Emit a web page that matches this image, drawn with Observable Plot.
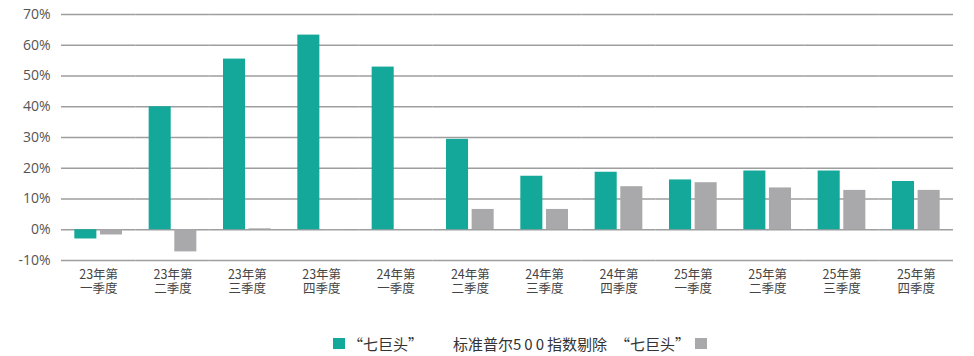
<!DOCTYPE html>
<html lang="zh-Hans"><head><meta charset="utf-8">
<script src="https://cdn.jsdelivr.net/npm/d3@7"></script>
<script src="https://cdn.jsdelivr.net/npm/@observablehq/plot@0.6"></script>
<style>
html,body{margin:0;padding:0;background:#fff;}
#wrap{width:974px;height:356px;position:relative;overflow:hidden;}
#legend{position:absolute;left:333px;top:333px;display:flex;align-items:center;font-family:"Noto Sans CJK SC","Noto Sans",sans-serif;font-size:15px;color:#333;white-space:nowrap;}
#legend .sw{width:12px;height:11px;display:inline-block;}
#legend .num{letter-spacing:3px;}
#legend .q{margin-left:8px;}
</style>
</head><body>
<div id="wrap"><div id="chart"></div><div id="legend" lang="zh-Hans"></div></div>
<script>
const quarters = ["23年第\n一季度","23年第\n二季度","23年第\n三季度","23年第\n四季度","24年第\n一季度","24年第\n二季度","24年第\n三季度","24年第\n四季度","25年第\n一季度","25年第\n二季度","25年第\n三季度","25年第\n四季度"];
const seriesNames = ["“七巨头”","标准普尔500指数剔除“七巨头”"];
const mag7 = [-3.0, 40.0, 55.5, 63.3, 52.9, 29.4, 17.4, 18.7, 16.2, 19.1, 19.1, 15.7];
const sp493 = [-1.7, -7.2, 0.3, -0.2, 0.0, 6.6, 6.6, 14.0, 15.3, 13.6, 12.8, 12.8];
const yTicks = [-10, 0, 10, 20, 30, 40, 50, 60, 70];
const colors = ["#13a89a", "#a9a9ab"];

const rows = quarters.flatMap((q, i) => [
  {quarter: q, series: seriesNames[0], value: mag7[i]},
  {quarter: q, series: seriesNames[1], value: sp493[i]}
]);

const chart = Plot.plot({
  width: 974,
  height: 305,
  marginLeft: 61,
  marginRight: 21,
  marginTop: 14,
  marginBottom: 45,
  style: {fontFamily: "'Open Sans', 'Noto Sans CJK SC', sans-serif", color: "#555", background: "transparent"},
  fx: {domain: quarters, padding: 0, round: false, label: null},
  x: {domain: seriesNames, paddingInner: 0.14, paddingOuter: 0.52, round: false, axis: null},
  y: {domain: [-10, 70], label: null},
  color: {domain: seriesNames, range: colors},
  marks: [
    Plot.ruleY(yTicks, {stroke: "#9e9e9e", strokeWidth: 1.3}),
    Plot.barY(rows, {fx: "quarter", x: "series", y: "value", fill: "series"}),
    Plot.axisY(yTicks, {tickSize: 0, tickPadding: 11, tickFormat: d => d + "%", fontSize: 14, fill: "#555", label: null}),
    Plot.axisFx({anchor: "bottom", tickSize: 0, tickPadding: 9, fontSize: 12.5, lineHeight: 1.1, fill: "#444", fontFamily: "'Noto Sans CJK SC', sans-serif", label: null})
  ]
});
document.getElementById("chart").appendChild(chart);

const legend = document.getElementById("legend");
const sw = (c) => { const s = document.createElement("span"); s.className = "sw"; s.style.background = c; return s; };
const item = (t, ml, mr) => {
  const s = document.createElement("span");
  s.style.marginLeft = ml + "px"; s.style.marginRight = mr + "px";
  let seen = "";
  t.split(/(\d+|“)/).forEach(part => {
    if (!part) return;
    const isNum = /^\d+$/.test(part);
    const isInnerQuote = part === "“" && seen.length > 0;
    if (isNum || isInnerQuote) {
      const n = document.createElement("span");
      n.className = isNum ? "num" : "q";
      n.textContent = part; s.appendChild(n);
    } else s.appendChild(document.createTextNode(part));
    seen += part;
  });
  return s;
};
legend.appendChild(sw(colors[0]));
legend.appendChild(item(seriesNames[0], 3, 30));
legend.appendChild(item(seriesNames[1], 0, 5));
legend.appendChild(sw(colors[1]));
</script>
</body></html>
